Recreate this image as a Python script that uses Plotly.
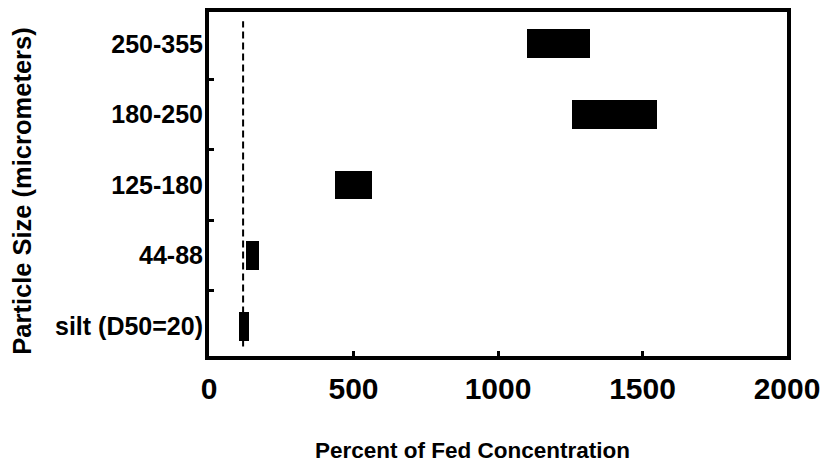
import plotly.graph_objects as go

categories = ["silt (D50=20)", "44-88", "125-180", "180-250", "250-355"]
range_start = [104, 128, 437, 1255, 1100]
range_end = [138, 173, 564, 1550, 1320]
reference_value = 118
x_ticks = [0, 500, 1000, 1500, 2000]

FONT = "Liberation Sans, Arial, sans-serif"

fig = go.Figure()
fig.add_trace(go.Bar(
    y=categories,
    x=[e - s for s, e in zip(range_start, range_end)],
    base=range_start,
    orientation="h",
    width=0.41,
    marker=dict(color="black", line=dict(width=0)),
    showlegend=False,
))

fig.add_shape(type="line", xref="x", yref="y",
              x0=reference_value, x1=reference_value, y0=-0.29, y1=4.32,
              line=dict(color="black", width=2, dash="7px,4px"))

# axis titles as annotations (placed off-centre as in the reference)
fig.add_annotation(text="<b>Percent of Fed Concentration</b>", xref="paper", yref="paper",
                   x=0.4564, y=-0.2754, xanchor="center", yanchor="middle",
                   showarrow=False, font=dict(family=FONT, size=22.5, color="black"))
fig.add_annotation(text="<b>Particle Size (micrometers)</b>", xref="paper", yref="paper",
                   x=-0.325, y=0.478, xanchor="center", yanchor="middle", textangle=-90,
                   showarrow=False, font=dict(family=FONT, size=25.5, color="black"))

fig.update_layout(
    width=820, height=458,
    margin=dict(l=201, r=40.5, t=3.5, b=109.5, autoexpand=False),
    plot_bgcolor="white", paper_bgcolor="white",
    font=dict(family=FONT, color="black"),
    bargap=0,
)

fig.update_xaxes(
    range=[0, 2000], tickvals=x_ticks, ticktext=[str(v) for v in x_ticks],
    automargin=False,
    showgrid=False, zeroline=False,
    showline=True, linewidth=4, linecolor="black", mirror=True,
    ticks="inside", ticklen=5, tickwidth=3, tickcolor="black",
    tickfont=dict(family=FONT, size=30, color="black", weight="bold"),
    ticklabelstandoff=3,
)
fig.update_yaxes(
    type="category", categoryorder="array", categoryarray=categories,
    range=[-0.424, 4.452],
    automargin=False,
    showgrid=False, zeroline=False,
    showline=True, linewidth=4, linecolor="black", mirror=True,
    ticks="inside", tickson="boundaries", ticklen=5, tickwidth=3, tickcolor="black",
    tickfont=dict(family=FONT, size=25, color="black", weight="bold"),
    ticklabelstandoff=-3,
)

fig.write_html("out.html")
